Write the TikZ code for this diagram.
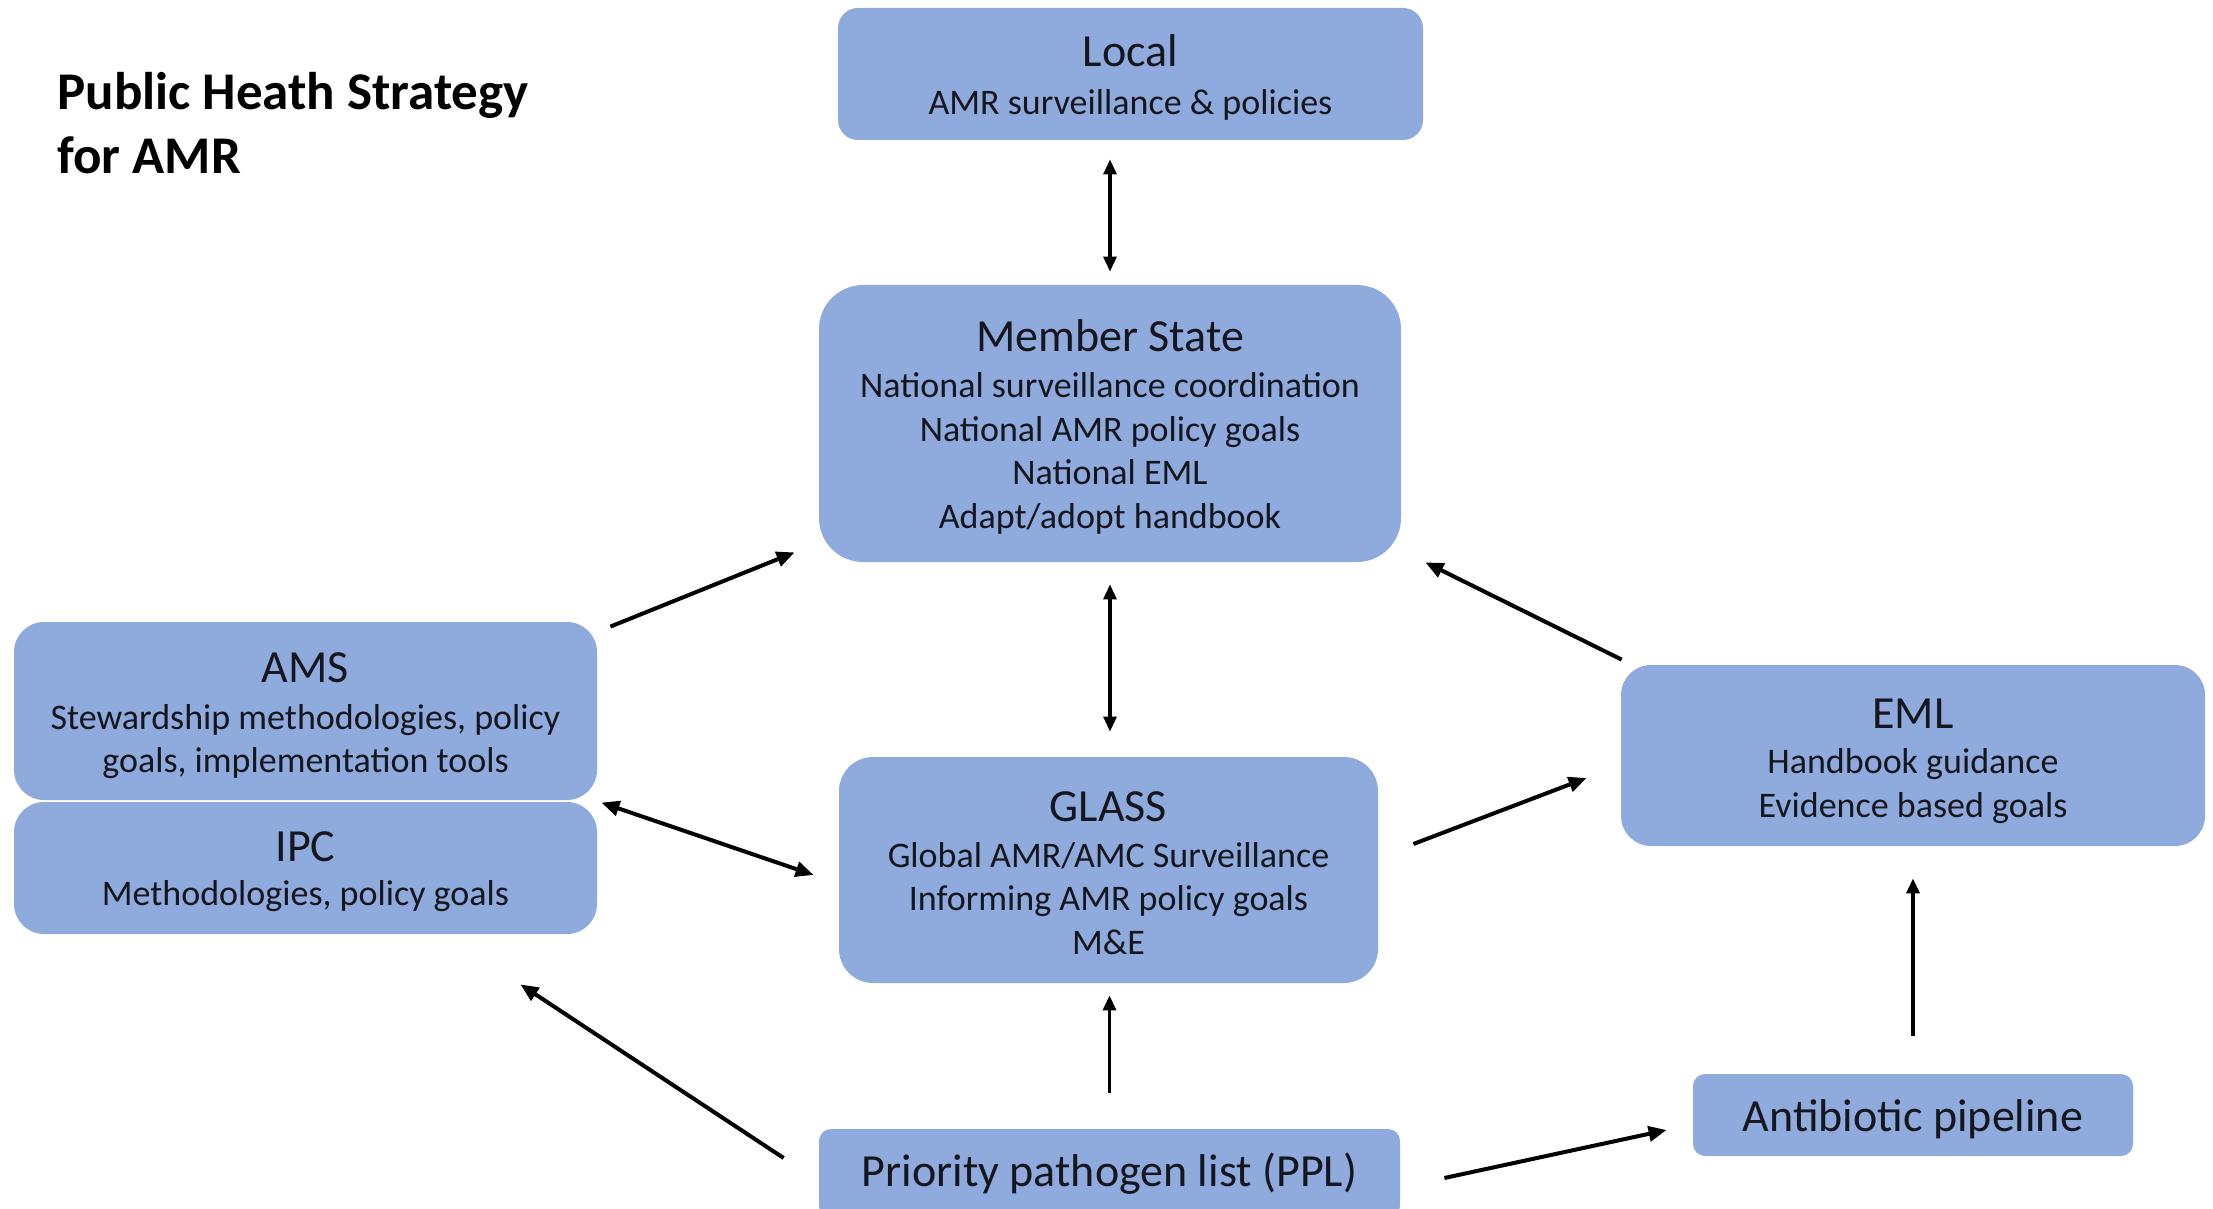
\documentclass[tikz,border=0pt]{standalone}
\usepackage{fontspec}
\setmainfont{Carlito}
\usetikzlibrary{arrows.meta,calc}
\definecolor{boxblue}{RGB}{143,170,220}
\definecolor{txt}{RGB}{22,22,30}
% title line of a box; optional argument = extra room above (moves the text block down by half of it)
\newcommand\bxttl[2][0pt]{{\fontsize{23}{23}\selectfont\setbox0\hbox{#2}\rule{0pt}{\dimexpr\ht0+#1\relax}\box0}}
\begin{document}
\begin{tikzpicture}[x=0.5pt,y=-0.5pt,
  box/.style={fill=boxblue, draw=none, text=txt, align=center, inner sep=0pt,
    font=\fontsize{18}{21.75}\selectfont},
  arr/.style={-{Triangle[length=9pt,width=7.5pt]}, line width=2pt, black},
  arrd/.style={{Triangle[length=9pt,width=7.5pt]}-{Triangle[length=9pt,width=7.5pt]}, line width=2pt, black},
  darr/.style={{Triangle[length=7.5pt,width=6.5pt]}-{Triangle[length=7.5pt,width=6.5pt]}, line width=1.6pt, black},
  uarr/.style={-{Triangle[length=7.5pt,width=6.5pt]}, line width=1.7pt, black}]
\clip (0,0) rectangle (2213,1209);
\fill[white] (0,0) rectangle (2213,1209);

\node[anchor=north west, inner sep=0pt, align=left,
  font=\bfseries\fontsize{26.5}{32}\selectfont] (title) at (57,72)
  {Public Heath Strategy\\for AMR};

\node[box, minimum width=292.5pt, minimum height=66pt, rounded corners=10pt] (local) at (1130.5,74)
  {\bxttl[3.5pt]{Local}\\[2pt]AMR surveillance \& policies};
\node[box, minimum width=291pt, minimum height=138.5pt, rounded corners=22pt] (ms) at (1110,423.5)
  {\bxttl[3pt]{Member State}\\[1.5pt]National surveillance coordination\\National AMR policy goals\\National EML\\Adapt/adopt handbook};
\node[box, minimum width=291.5pt, minimum height=89pt, rounded corners=15pt] (ams) at (305.5,711)
  {\bxttl[5pt]{AMS}\\[1.6pt]Stewardship methodologies, policy\\goals, implementation tools};
\node[box, minimum width=291.5pt, minimum height=66pt, rounded corners=15pt] (ipc) at (305.5,868)
  {\bxttl[3.5pt]{IPC}\\[0.5pt]Methodologies, policy goals};
\node[box, minimum width=269.5pt, minimum height=113pt, rounded corners=17pt] (glass) at (1108.5,870)
  {\bxttl[3.4pt]{GLASS}\\[1pt]Global AMR/AMC Surveillance\\Informing AMR policy goals\\M\&E};
\node[box, minimum width=292pt, minimum height=90.5pt, rounded corners=15pt] (eml) at (1913,755.5)
  {\bxttl[5.6pt]{EML}\\[1pt]Handbook guidance\\Evidence based goals};
\node[box, minimum width=220pt, minimum height=41pt, rounded corners=6pt] (anti) at (1913,1115)
  {\bxttl[4.2pt]{Antibiotic pipeline}};
\node[box, minimum width=290.5pt, minimum height=44.5pt, rounded corners=6pt] (ppl) at (1109.5,1173.5)
  {\bxttl{Priority pathogen list (PPL)}};

\draw[darr, shorten <=9.5pt, shorten >=6.5pt] (ms.north |- local.south) -- (ms.north);
\draw[darr, shorten <=11pt, shorten >=12.5pt] (ms.south) -- (ms.south |- glass.north);
\draw[arr] ([shift={(13,5)}]ams.north east) -- ([shift={(-24,-10)}]ms.south west);
\draw[arrd] ([shift={(4,1)}]ipc.north east) -- ([shift={(-25,5)}]glass.west);
\draw[arr] ([shift={(-35,-15.5)}]ppl.west) -- ([shift={(-77,50)}]ipc.south east);
\draw[uarr, shorten <=18pt, shorten >=6pt] (ppl.north) -- (ppl.north |- glass.south);
\draw[arr] ([shift={(35,-26)}]glass.east) -- ([shift={(-34,22.5)}]eml.west);
\draw[arr] ([shift={(1,-5)}]eml.north west) -- ([shift={(24,0)}]ms.south east);
\draw[arr] ([shift={(44,4.5)}]ppl.east) -- ([shift={(-26,15)}]anti.west);
\draw[uarr, shorten <=19pt, shorten >=16pt] (anti.north) -- (anti.north |- eml.south);
\end{tikzpicture}
\end{document}
